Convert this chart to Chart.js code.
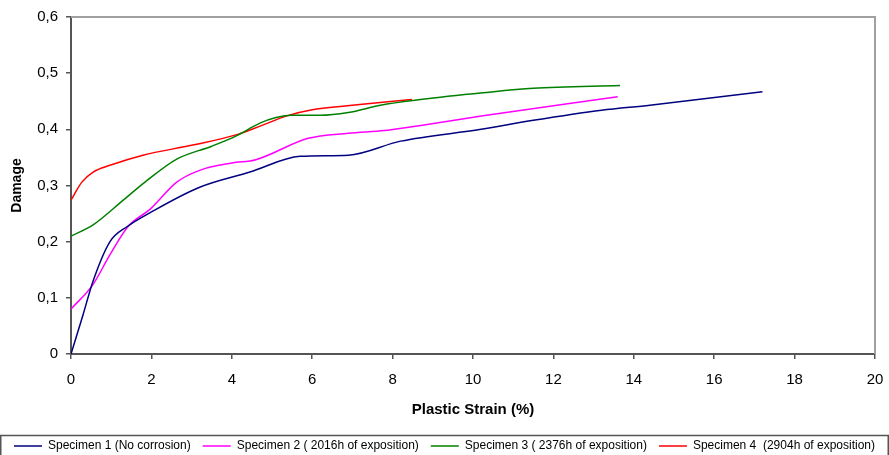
<!DOCTYPE html>
<html>
<head>
<meta charset="utf-8">
<script src="https://cdn.jsdelivr.net/npm/chart.js@4"></script>
<style>
  html, body { margin: 0; padding: 0; background: #fff; }
  #wrap { width: 889px; height: 455px; }
</style>
</head>
<body>
<div id="wrap"><canvas id="myChart" width="889" height="455"></canvas></div>
<script>
// values: plastic strain (%) and damage
var s1Strain = [0, 0.3, 0.55, 0.97, 1.4, 2.0, 3.2, 4.45, 5.7, 6.9, 8.2, 10.2, 11.5, 13.2, 14.4, 17.2];
var s1Damage = [0, 0.07, 0.13, 0.2, 0.227, 0.253, 0.297, 0.324, 0.352, 0.354, 0.379, 0.4, 0.416, 0.434, 0.443, 0.467];

var s2Strain = [0, 0.55, 0.97, 1.42, 1.97, 2.63, 3.2, 4.0, 4.6, 5.9, 6.9, 7.8, 8.7, 10.25, 13.6];
var s2Damage = [0.08, 0.124, 0.177, 0.227, 0.258, 0.306, 0.327, 0.34, 0.346, 0.384, 0.393, 0.398, 0.407, 0.424, 0.458];

var s3Strain = [0, 0.55, 1.3, 1.84, 2.63, 3.5, 4.1, 4.7, 5.1, 5.5, 6.2, 6.9, 7.7, 8.7, 10.25, 11.5, 13.66];
var s3Damage = [0.21, 0.23, 0.274, 0.306, 0.347, 0.37, 0.388, 0.411, 0.421, 0.425, 0.425, 0.43, 0.443, 0.453, 0.465, 0.473, 0.478];

var s4Strain = [0, 0.27, 0.55, 0.97, 1.79, 3.03, 4.15, 4.75, 5.37, 6.0, 6.87, 8.48];
var s4Damage = [0.274, 0.306, 0.324, 0.336, 0.354, 0.372, 0.391, 0.407, 0.424, 0.435, 0.442, 0.453];

var seriesNames = [
  'Specimen 1 (No corrosion)',
  'Specimen 2 ( 2016h of exposition)',
  'Specimen 3 ( 2376h of exposition)',
  'Specimen 4  (2904h of exposition)'
];

function pairs(xs, ys) {
  return xs.map(function(x, i) { return {x: x, y: ys[i]}; });
}

function makeSet(name, xs, ys, color) {
  return {
    label: name,
    data: pairs(xs, ys),
    borderColor: color,
    backgroundColor: color,
    borderWidth: 1.5,
    pointRadius: 0,
    cubicInterpolationMode: 'monotone',
    fill: false
  };
}

// top/right plot border and the box round the legend
var frame = {
  id: 'frame',
  afterDraw: function(chart) {
    var c = chart.ctx, a = chart.chartArea;
    c.save();
    c.strokeStyle = '#a0a0a0';
    c.lineWidth = 2;
    c.beginPath();
    c.moveTo(a.left, a.top);
    c.lineTo(a.right, a.top);
    c.lineTo(a.right, a.bottom);
    c.stroke();
    c.strokeStyle = '#555';
    c.lineWidth = 1.5;
    c.strokeRect(0.75, 435.5, 887.5, 40);
    c.restore();
  }
};

var ctx = document.getElementById('myChart').getContext('2d');
var chart = new Chart(ctx, {
  type: 'line',
  data: {
    datasets: [
      makeSet(seriesNames[0], s1Strain, s1Damage, '#000080'),
      makeSet(seriesNames[1], s2Strain, s2Damage, '#ff00ff'),
      makeSet(seriesNames[2], s3Strain, s3Damage, '#008000'),
      makeSet(seriesNames[3], s4Strain, s4Damage, '#ff0000')
    ]
  },
  options: {
    responsive: false,
    animation: false,
    layout: { padding: { top: 14, right: 0, left: 0, bottom: -7 } },
    plugins: {
      tooltip: { enabled: false },
      legend: {
        position: 'bottom',
        labels: {
          color: '#000',
          font: { family: 'Liberation Sans, Arial, sans-serif', size: 12 },
          usePointStyle: true,
          pointStyle: 'line',
          pointStyleWidth: 28,
          padding: 12
        }
      }
    },
    scales: {
      x: {
        type: 'linear',
        min: 0,
        max: 20,
        afterFit: function(s) { s.height = 74; s.paddingRight = 14; },
        ticks: {
          stepSize: 2,
          color: '#000',
          padding: 12,
          font: { family: 'Liberation Sans, Arial, sans-serif', size: 15 }
        },
        grid: { drawOnChartArea: false, tickLength: 5, color: '#555', lineWidth: 1.5 },
        border: { color: '#555', width: 2 },
        title: {
          display: true,
          text: 'Plastic Strain (%)',
          color: '#000',
          font: { family: 'Liberation Sans, Arial, sans-serif', size: 15, weight: 'bold' },
          padding: { top: 4, bottom: 9 }
        }
      },
      y: {
        min: 0,
        max: 0.6,
        afterFit: function(s) { s.width = 71; },
        ticks: {
          stepSize: 0.1,
          color: '#000',
          padding: 8,
          font: { family: 'Liberation Sans, Arial, sans-serif', size: 15 },
          callback: function(v) { return v === 0 ? '0' : v.toFixed(1).replace('.', ','); }
        },
        grid: { drawOnChartArea: false, tickLength: 5, color: '#555', lineWidth: 1.5 },
        border: { color: '#555', width: 2 },
        title: {
          display: true,
          text: 'Damage',
          color: '#000',
          font: { family: 'Liberation Sans, Arial, sans-serif', size: 14, weight: 'bold' },
          padding: { top: 9, bottom: 0 }
        }
      }
    }
  },
  plugins: [frame]
});
</script>
</body>
</html>
